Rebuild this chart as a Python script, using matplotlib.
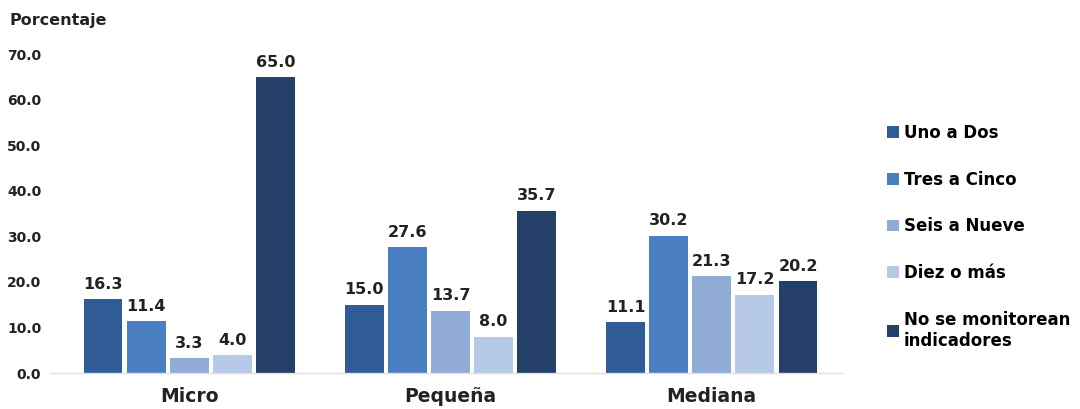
import numpy as np
import matplotlib
matplotlib.use("Agg")
import matplotlib.pyplot as plt

plt.rcParams['font.family'] = ['DejaVu Sans']
plt.rcParams['font.weight'] = 'bold'

# data
empresas = ["Micro", "Pequeña", "Mediana"]
series = ["Uno a Dos", "Tres a Cinco", "Seis a Nueve", "Diez o más",
          "No se monitorean\nindicadores"]
uno_a_dos = [16.3, 15.0, 11.1]
tres_a_cinco = [11.4, 27.6, 30.2]
seis_a_nueve = [3.3, 13.7, 21.3]
diez_o_mas = [4.0, 8.0, 17.2]
no_monitorean = [65.0, 35.7, 20.2]
colores = ["#2f5b96", "#4a80c1", "#8fabd6", "#b6c9e6", "#243f68"]

valores = [uno_a_dos, tres_a_cinco, seis_a_nueve, diez_o_mas, no_monitorean]

fig = plt.figure(figsize=(10.8, 4.09), dpi=100)
ax = fig.add_axes([0.046, 0.088, 0.735, 0.779])

x = np.arange(len(empresas))
paso = 0.165
ancho = 0.149
for i, (vals, nombre, col) in enumerate(zip(valores, series, colores)):
    pos = x + (i - 2) * paso
    barras = ax.bar(pos, vals, width=ancho, color=col, label=nombre)
    for b, v in zip(barras, vals):
        ax.text(b.get_x() + b.get_width() / 2, v + 1.6, f"{v:.1f}",
                ha='center', va='bottom', fontsize=11.5, fontweight='bold',
                color='#222222')

ax.set_xlim(-0.534, 2.504)
ax.set_ylim(0, 70)
ax.set_yticks(np.arange(0, 71, 10))
ax.set_yticklabels([f"{t:.1f}" for t in np.arange(0, 71, 10)])
ax.set_xticks(x)
ax.set_xticklabels(empresas, fontsize=13.5, fontweight='bold')
ax.tick_params(axis='y', length=0, labelsize=10, pad=6, colors='#222222')
ax.tick_params(axis='x', length=0, pad=10, colors='#222222')
for s in ['top', 'right', 'left']:
    ax.spines[s].set_visible(False)
ax.spines['bottom'].set_color('#e0e0e0')
ax.spines['bottom'].set_linewidth(1)

fig.text(0.009, 0.95, "Porcentaje", fontsize=11.5, fontweight='bold',
         color='#222222', va='center')

fig.legend(loc='upper left', bbox_to_anchor=(0.815, 0.713), frameon=False,
           fontsize=12, handlelength=0.72, handleheight=0.72,
           handletextpad=0.3, labelspacing=1.72, borderaxespad=0)

fig.savefig("out.png", dpi=100)
